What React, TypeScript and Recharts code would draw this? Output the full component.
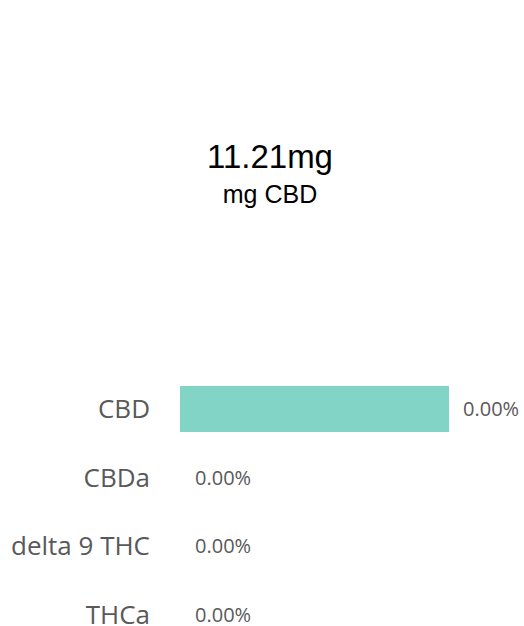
import { Bar, BarChart, Cell, LabelList, XAxis, YAxis } from "recharts";

const categories = ["CBD", "CBDa", "delta 9 THC", "THCa"];
const amounts = [11.21, 0, 0, 0];
const percentLabels = ["0.00%", "0.00%", "0.00%", "0.00%"];
const totalText = "11.21mg";
const totalCaption = "mg CBD";

const data = categories.map((name, i) => ({
  name,
  amount: amounts[i],
  label: percentLabels[i],
}));

const labelFont = "'Open Sans', sans-serif";
const headFont = "'Liberation Sans', Arial, sans-serif";
const textGray = "#595959";
const barColor = "#82D4C6";

export default function App() {
  // fixed frame so the page never scrolls; coords match the window
  return (
    <div
      style={{
        position: "fixed",
        top: 0,
        left: 0,
        width: 524,
        height: 626,
        overflow: "hidden",
        background: "#fff",
      }}
    >
      <BarChart
        width={524}
        height={660}
        data={data}
        layout="vertical"
        margin={{ top: 375, right: 75, bottom: 11, left: 0 }}
      >
        <XAxis type="number" hide domain={[0, Math.max(...amounts)]} />
        <YAxis
          type="category"
          dataKey="name"
          width={180}
          axisLine={false}
          tickLine={false}
          tickSize={0}
          tickMargin={30}
          tick={{ fill: textGray, fontSize: 26, fontFamily: labelFont }}
        />
        <Bar dataKey="amount" fill={barColor} barSize={46} minPointSize={1} isAnimationActive={false}>
          {data.map((d) => (
            <Cell key={d.name} fill={d.amount > 0 ? barColor : "transparent"} />
          ))}
          <LabelList
            dataKey="label"
            position="right"
            offset={14}
            fill={textGray}
            fontSize={20}
            fontFamily={labelFont}
          />
        </Bar>
      </BarChart>
      <svg
        width={524}
        height={240}
        style={{ position: "absolute", top: 0, left: 0, pointerEvents: "none" }}
      >
        <text x={270} y={168} textAnchor="middle" fontFamily={headFont} fontSize={33} fill="#000">
          {totalText}
        </text>
        <text x={270} y={203} textAnchor="middle" fontFamily={headFont} fontSize={25} fill="#000">
          {totalCaption}
        </text>
      </svg>
    </div>
  );
}
